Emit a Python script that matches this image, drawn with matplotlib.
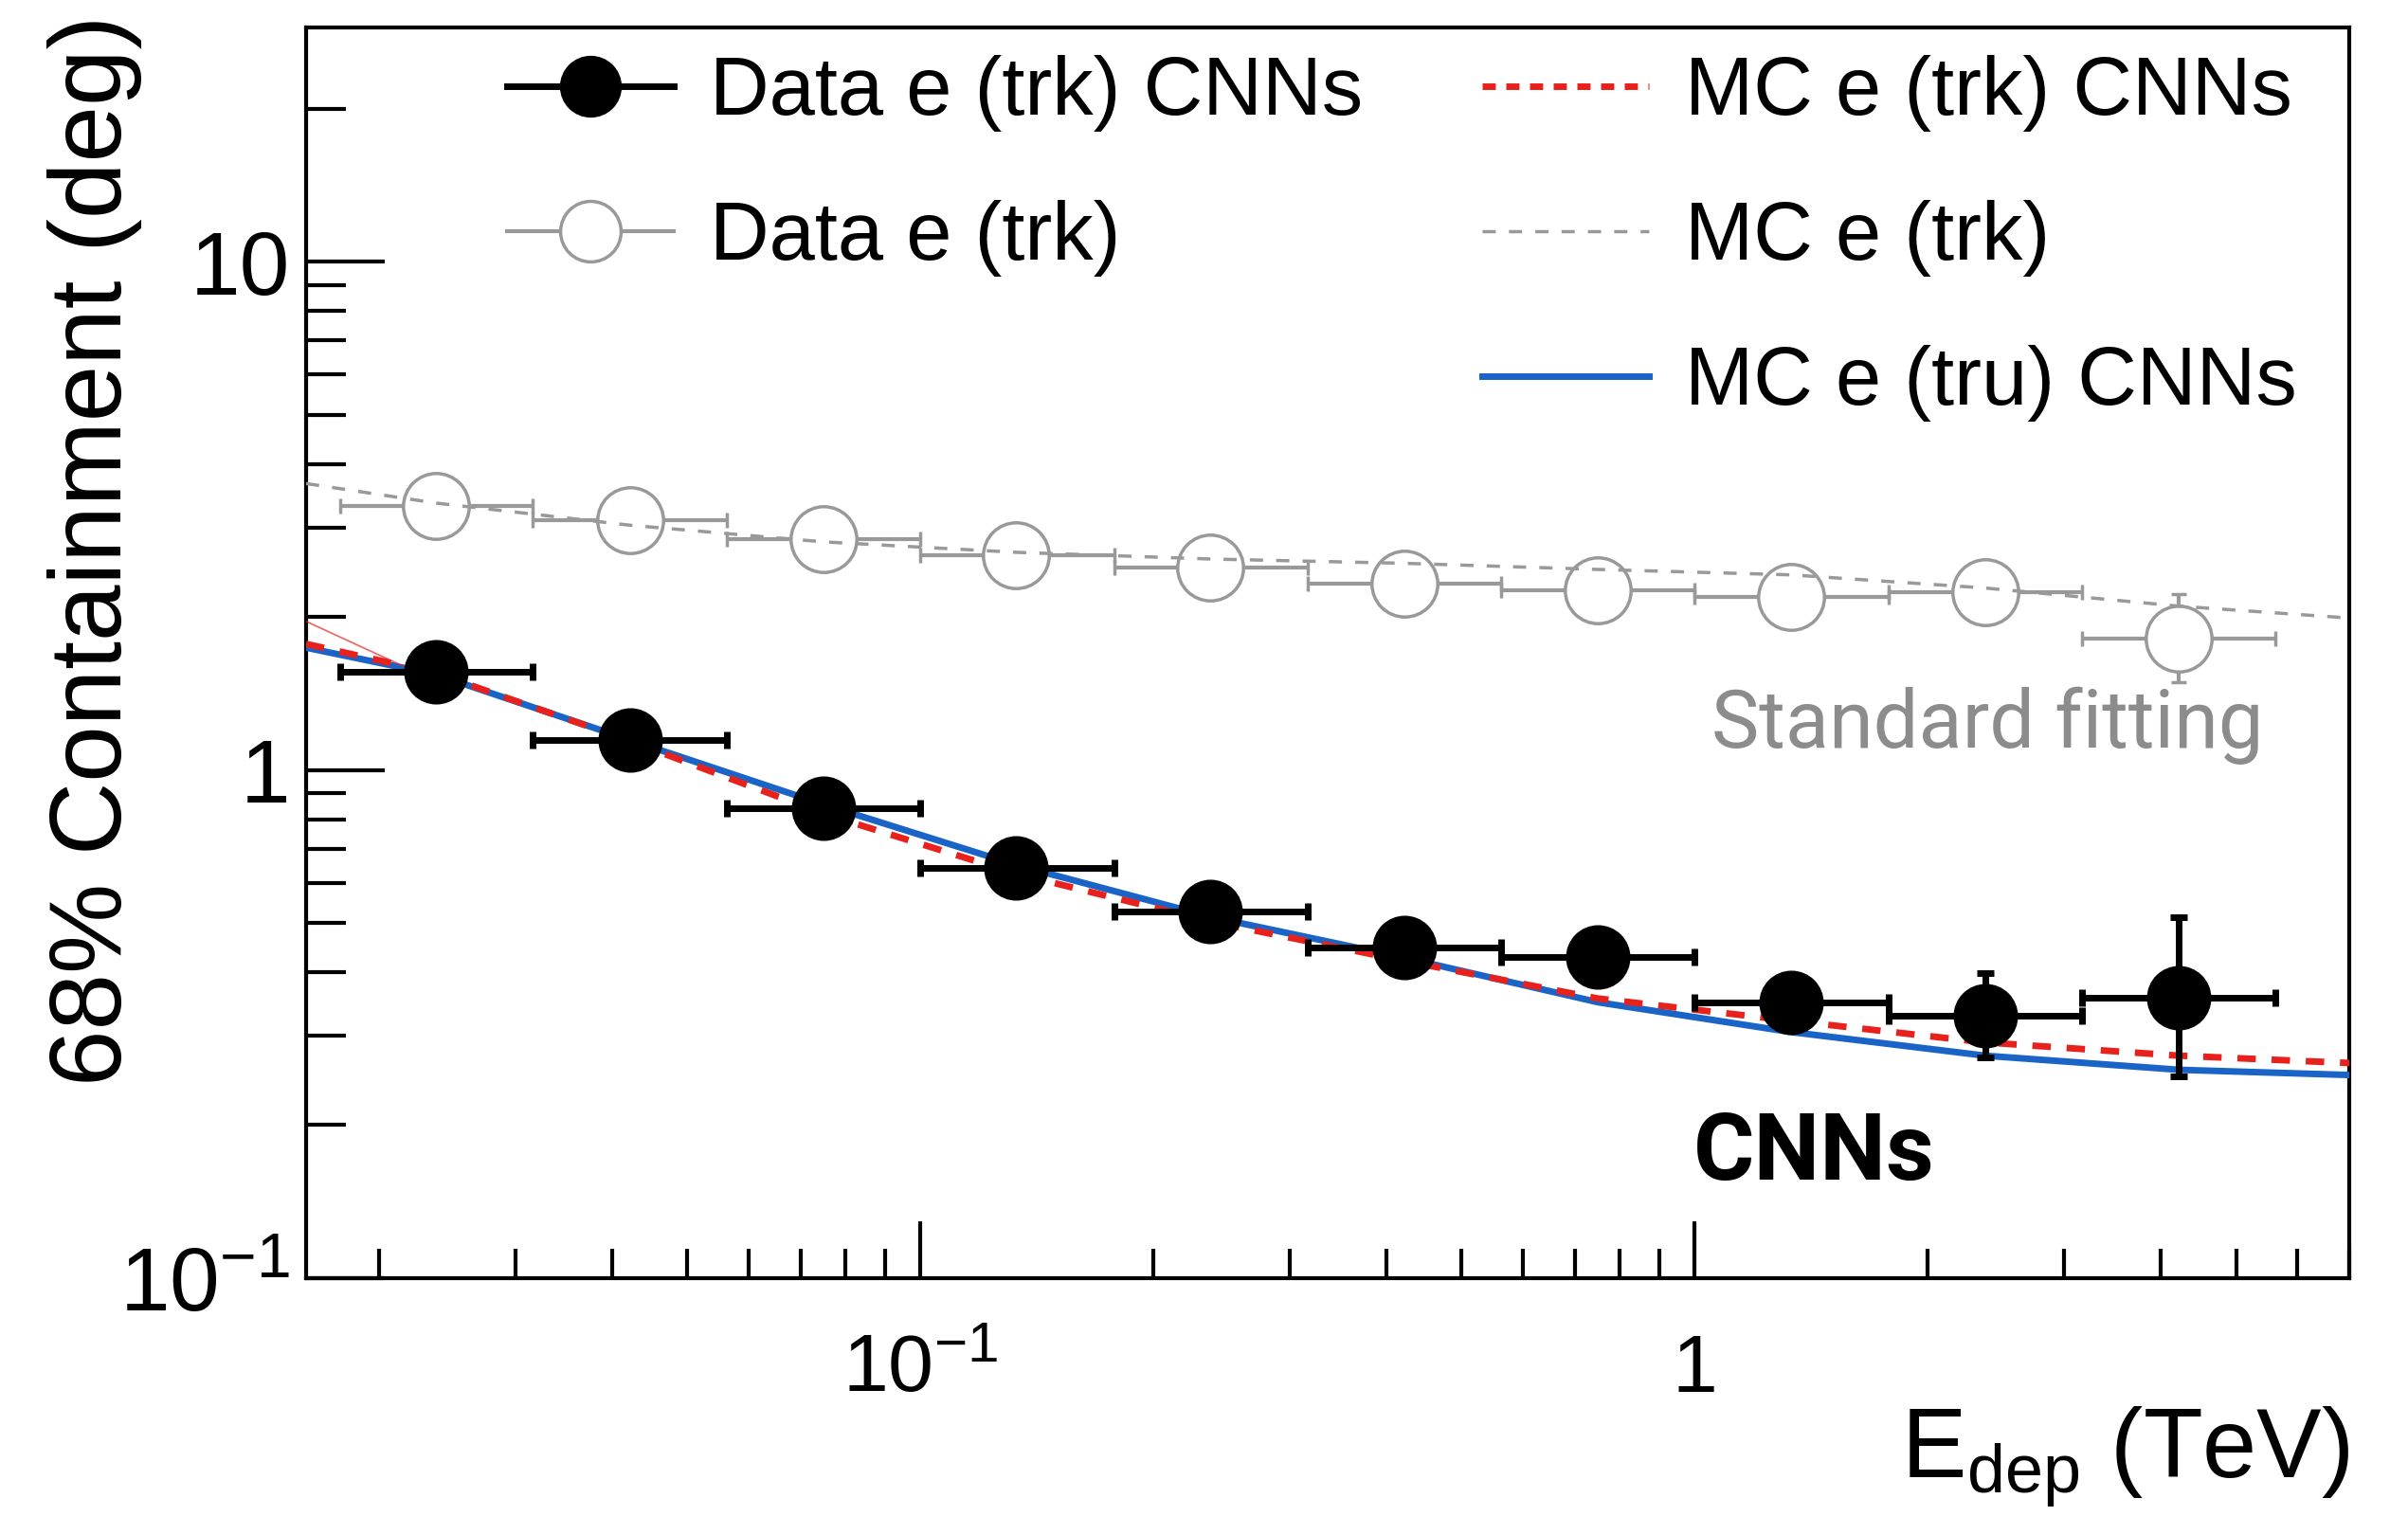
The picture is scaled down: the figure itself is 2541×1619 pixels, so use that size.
import matplotlib
matplotlib.use("Agg")
import numpy as np
import matplotlib.pyplot as plt
from matplotlib.lines import Line2D
from matplotlib.ticker import LogLocator, FuncFormatter, NullFormatter

# energy bins (TeV): edges and log-centres
bin_edges = np.array([0.0178, 0.0316, 0.0562, 0.1, 0.178, 0.316, 0.562, 1.0, 1.78, 3.16, 5.62])
bin_centers = np.array([0.0237, 0.0422, 0.075, 0.133, 0.237, 0.422, 0.75, 1.33, 2.37, 4.22])

# data, CNN direction reconstruction
data_cnn = np.array([1.56, 1.145, 0.84, 0.642, 0.526, 0.447, 0.428, 0.348, 0.328, 0.357])
data_cnn_lo = np.array([0.03, 0.02, 0.015, 0.012, 0.01, 0.01, 0.012, 0.015, 0.056, 0.108])
data_cnn_hi = np.array([0.03, 0.02, 0.015, 0.012, 0.01, 0.01, 0.012, 0.015, 0.070, 0.157])

# data, standard track fitting
data_trk = np.array([3.30, 3.10, 2.84, 2.64, 2.50, 2.33, 2.26, 2.19, 2.24, 1.81])
data_trk_lo = np.array([0.05, 0.04, 0.03, 0.03, 0.03, 0.03, 0.03, 0.04, 0.05, 0.32])
data_trk_hi = np.array([0.05, 0.04, 0.03, 0.03, 0.03, 0.03, 0.03, 0.04, 0.05, 0.41])

# MC curves
curve_e = np.array([0.0161, 0.0237, 0.0422, 0.075, 0.133, 0.237, 0.422, 0.75, 1.33, 2.37, 4.22, 7.0])
mc_trk_cnn = np.array([1.77, 1.55, 1.14, 0.82, 0.625, 0.503, 0.421, 0.355, 0.321, 0.291, 0.274, 0.265])
mc_tru_cnn = np.array([1.74, 1.54, 1.145, 0.855, 0.65, 0.514, 0.427, 0.349, 0.305, 0.274, 0.257, 0.251])
mc_trk = np.array([3.66, 3.35, 3.03, 2.81, 2.68, 2.60, 2.55, 2.48, 2.42, 2.28, 2.10, 1.99])

# thin fit line at low energy
fit_e = np.array([0.0161, 0.0215])
fit_v = np.array([1.96, 1.60])

RED = "#e8211c"
BLUE = "#1a64c8"
GREY = "#8c8c8c"

plt.rcParams["font.family"] = ["Liberation Sans", "DejaVu Sans"]
plt.rcParams["mathtext.fontset"] = "custom"
plt.rcParams["mathtext.rm"] = "Liberation Sans"
plt.rcParams["mathtext.it"] = "Liberation Sans:italic"
plt.rcParams["mathtext.bf"] = "Liberation Sans:bold"

fig = plt.figure(figsize=(25.41, 16.19), dpi=100)
ax = fig.add_axes([0.1271, 0.1668, 0.8485, 0.8153])

xerr = [bin_centers - bin_edges[:-1], bin_edges[1:] - bin_centers]

# standard fitting points (white-filled so the bars stop at the circle)
ax.errorbar(bin_centers, data_trk, xerr=xerr, yerr=[data_trk_lo, data_trk_hi],
            fmt="o", color="#999999", mfc="white", mec="#999999", mew=2.5, ms=50,
            elinewidth=3, capsize=6, capthick=3, zorder=2)
ax.plot(curve_e, mc_trk, color="#999999", lw=2.5, dashes=(4, 4), zorder=3)

ax.plot(curve_e, mc_tru_cnn, color=BLUE, lw=5, zorder=4)
ax.plot(curve_e, mc_trk_cnn, color=RED, lw=5, dashes=(2.8, 2.4), zorder=4)
ax.plot(fit_e, fit_v, color=RED, lw=1.2, alpha=0.7, zorder=4)

ax.errorbar(bin_centers, data_cnn, xerr=xerr, yerr=[data_cnn_lo, data_cnn_hi],
            fmt="o", color="black", ms=48, elinewidth=5, capsize=6.5, capthick=5,
            zorder=5)

ax.set_xscale("log")
ax.set_yscale("log")
ax.set_xlim(0.0161, 7.0)
ax.set_ylim(0.1, 28.9)

tick_text = {0.1: r"$10^{-1}$", 1.0: "1", 10.0: "10"}


def fmt_tick(v, pos):
    for k, s in tick_text.items():
        if abs(v - k) / k < 1e-6:
            return s
    return ""


for axis in (ax.xaxis, ax.yaxis):
    axis.set_major_locator(LogLocator(base=10))
    axis.set_minor_locator(LogLocator(base=10, subs=np.arange(2, 10)))
    axis.set_major_formatter(FuncFormatter(fmt_tick))
    axis.set_minor_formatter(NullFormatter())

ax.tick_params(which="both", direction="in", top=False, right=False, width=3)
ax.tick_params(axis="y", which="major", length=60, pad=12, labelsize=68)
ax.tick_params(axis="y", which="minor", length=30)
ax.tick_params(axis="x", which="major", length=43, pad=42, labelsize=62)
ax.tick_params(axis="x", which="minor", length=22)
for sp in ax.spines.values():
    sp.set_linewidth(3)

ax.set_ylabel("68% Containment (deg)", fontsize=77, loc="top")
ax.yaxis.set_label_coords(-0.080, 1.0098)
ax.set_xlabel(r"$\mathrm{E}_{\mathrm{dep}}$ (TeV)", fontsize=74, loc="right")
ax.xaxis.set_label_coords(1.0, -0.1015)

ax.text(0.688, 0.424, "Standard fitting", transform=ax.transAxes,
        fontsize=61, color=GREY, va="baseline", ha="left",
        family=["Roboto", "DejaVu Sans"])
ax.text(0.679, 0.0788, "CNNs", transform=ax.transAxes, fontsize=71,
        fontweight="bold", color="black", va="baseline", ha="left",
        family=["Roboto", "DejaVu Sans"])

# legends: data on the left, MC on the right
h_data = [
    Line2D([], [], color="black", lw=5, marker="o", ms=46),
    Line2D([], [], color="#999999", lw=3, marker="o", ms=46, mfc="white",
           mec="#999999", mew=2.5),
]
l_data = ["Data e (trk) CNNs", "Data e (trk)"]
h_mc = [
    Line2D([], [], color=RED, lw=5, dashes=(2.0, 1.6)),
    Line2D([], [], color="#999999", lw=2.5, dashes=(4, 4)),
    Line2D([], [], color=BLUE, lw=5),
]
l_mc = ["MC e (trk) CNNs", "MC e (trk)", "MC e (tru) CNNs"]

leg_kw = dict(loc="upper left", frameon=False, fontsize=62.5, handlelength=2.03,
              handletextpad=0.44, labelspacing=0.83, borderpad=0, borderaxespad=0,
              bbox_transform=fig.transFigure)
leg1 = ax.legend(h_data, l_data, bbox_to_anchor=(0.2105, 0.964), **leg_kw)
ax.add_artist(leg1)
ax.legend(h_mc, l_mc, bbox_to_anchor=(0.6155, 0.964), **leg_kw)

fig.savefig("out.png", dpi=100)
